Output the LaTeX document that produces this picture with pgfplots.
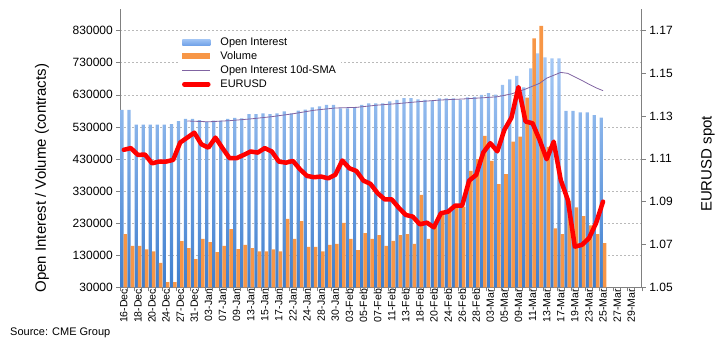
\documentclass[border=0pt]{standalone}
\usepackage{pgfplots}
\usepackage{pgfplotstable}
\pgfplotsset{compat=1.18}
\usepackage{fontspec}
\setmainfont{Liberation Sans}
\definecolor{oiTop}{RGB}{168,202,246}
\definecolor{oiBot}{RGB}{62,126,206}
\definecolor{lgTop}{RGB}{160,196,244}
\definecolor{lgBot}{RGB}{112,162,232}
\definecolor{volOr}{RGB}{247,150,70}
\definecolor{smaPu}{RGB}{128,100,162}
\definecolor{axGray}{RGB}{128,128,128}
\definecolor{gridGray}{RGB}{185,185,185}

\pgfplotstableread{
i oi vol eur
0 583000 196000 1.1142
1 583000 159000 1.1150
2 537000 159000 1.1118
3 537000 148500 1.1120
4 537000 142000 1.1079
5 537000 106000 1.1087
6 537000 46500 1.1087
7 539000 46500 1.1095
8 548000 174000 1.1176
9 555000 152500 1.1199
10 555000 118000 1.1222
11 551000 180600 1.1168
12 546000 171000 1.1152
13 550000 140000 1.1199
14 550000 159000 1.1150
15 555000 211000 1.1103
16 558000 149000 1.1103
17 557000 162000 1.1118
18 570000 152500 1.1134
19 570000 142000 1.1129
20 572600 142000 1.1150
21 570000 148500 1.1134
22 572600 142000 1.1087
23 578800 243000 1.1082
24 572600 180600 1.1090
25 580800 236700 1.1051
26 583800 155700 1.1020
27 591000 155700 1.1014
28 594400 142000 1.1017
29 598400 162000 1.1009
30 598400 165000 1.1025
31 588000 230500 1.1092
32 588000 180600 1.1056
33 591000 146000 1.1043
34 598400 199000 1.0998
35 603700 180600 1.0983
36 603700 193000 1.0940
37 603700 158800 1.0911
38 610000 174400 1.0911
39 614000 193000 1.0872
40 620000 196000 1.0838
41 620000 165000 1.0830
42 616000 318000 1.0794
43 614000 180600 1.0802
44 612000 222000 1.0780
45 619000 259000 1.0846
46 619000 266000 1.0853
47 619000 281000 1.0881
48 614000 281000 1.0881
49 622000 393000 1.0998
50 624000 430000 1.1025
51 630000 502000 1.1129
52 635000 424000 1.1173
53 630600 352000 1.1135
54 661000 383000 1.1235
55 678600 484000 1.1292
56 689000 499600 1.1435
57 653600 621000 1.1274
58 712900 806000 1.1266
59 759700 845000 1.1188
60 747000 468000 1.1098
61 744000 214000 1.1180
62 744000 196000 1.1001
63 579700 300000 1.0908
64 579700 279000 1.0690
65 575700 252000 1.0698
66 575700 223000 1.0729
67 567000 196000 1.0799
68 558800 168000 1.0900
}\datatab

\pgfplotstableread{
i sma
9 548500
12 546000
15 549500
18 555000
21 562000
24 571000
27 582000
30 589000
33 591000
36 598000
39 603000
42 609000
45 614000
48 617000
51 621000
53 624000
55 633000
57 648000
59 666000
60 682000
62 700000
63 697000
65 675000
66 663000
67 652000
68 643000
}\smatab

\begin{document}
\begin{tikzpicture}
\useasboundingbox (0,0) rectangle (727bp,359bp);
\begin{axis}[
  at={(120.3bp,71.7bp)}, anchor=south west,
  scale only axis, width=521.5bp, height=278.4bp,
  xmin=-0.5, xmax=73.5, ymin=30000, ymax=898000,
  axis x line*=bottom, axis y line*=left,
  axis line style={axGray, line width=0.8bp},
  every tick/.style={axGray, line width=0.6bp},
  tick align=outside, major tick length=4bp,
  ytick={30000,130000,230000,330000,430000,530000,630000,730000,830000},
  scaled y ticks=false,
  /pgf/number format/fixed, /pgf/number format/1000 sep={},
  /pgf/number format/assume math mode=true,
  yticklabel style={font=\fontsize{12bp}{14bp}\selectfont},
  ymajorgrids, grid style={gridGray, dash pattern=on 2bp off 2bp, line width=0.6bp},
  xtick={-0.5,0.5,...,73.5}, xticklabels={},
  extra x ticks={0,2,...,72},
  extra x tick labels={16-Dec,18-Dec,20-Dec,24-Dec,27-Dec,31-Dec,03-Jan,07-Jan,09-Jan,13-Jan,15-Jan,17-Jan,22-Jan,24-Jan,28-Jan,30-Jan,03-Feb,05-Feb,07-Feb,11-Feb,13-Feb,18-Feb,20-Feb,24-Feb,26-Feb,28-Feb,03-Mar,05-Mar,09-Mar,11-Mar,13-Mar,17-Mar,19-Mar,23-Mar,25-Mar,27-Mar,29-Mar},
  extra x tick style={grid=none, major tick length=0pt},
  xticklabel style={rotate=90, anchor=east, inner sep=1.5bp, font=\fontsize{10.5bp}{12bp}\selectfont},
  ylabel={Open Interest / Volume (contracts)},
  ylabel style={at={(axis description cs:-0.150,0.392)}, anchor=center, font=\fontsize{15bp}{18bp}\selectfont},
]
\addplot[ybar, bar width=0.46, bar shift=-0.25, draw=none, top color=oiTop, bottom color=oiBot] table[x=i, y=oi] {\datatab};
\addplot[ybar, bar width=0.5, bar shift=0.23, draw=none, fill=volOr] table[x=i, y=vol] {\datatab};
\addplot[smaPu, line width=0.8bp, no marks] table[x=i, y=sma] {\smatab};
\end{axis}
\begin{axis}[
  at={(120.3bp,71.7bp)}, anchor=south west,
  scale only axis, width=521.5bp, height=278.4bp,
  xmin=-0.5, xmax=73.5, ymin=1.05, ymax=1.18,
  axis x line=none, axis y line*=right,
  axis line style={axGray, line width=0.8bp},
  every tick/.style={axGray, line width=0.6bp},
  tick align=outside, major tick length=4bp,
  ytick={1.05,1.07,1.09,1.11,1.13,1.15,1.17},
  yticklabel style={font=\fontsize{12bp}{14bp}\selectfont,
    /pgf/number format/fixed, /pgf/number format/fixed zerofill,
    /pgf/number format/precision=2, /pgf/number format/assume math mode=true},
  ylabel={EURUSD spot},
  ylabel style={at={(axis description cs:1.127,0.443)}, anchor=center, font=\fontsize{15bp}{18bp}\selectfont},
  legend style={at={(axis description cs:0.112,0.913)}, anchor=north west, draw=none, fill=white,
    font=\fontsize{11bp}{13bp}\selectfont, row sep=0bp, inner xsep=3bp, inner ysep=2bp,
    nodes={text height=8bp, text depth=2.5bp, inner sep=1.75bp},
    /tikz/every odd column/.append style={column sep=8bp}},
  legend cell align=left,
]
\addlegendimage{draw=none, legend image code/.code={\shade[draw=none, top color=lgTop, bottom color=lgBot] (0bp,-3bp) rectangle (28bp,3bp);}}
\addlegendentry{Open Interest}
\addlegendimage{draw=none, legend image code/.code={\fill[volOr, draw=none] (0bp,-3bp) rectangle (28bp,3bp);}}
\addlegendentry{Volume}
\addlegendimage{legend image code/.code={\draw[smaPu, line width=0.8bp] (0bp,0bp) -- (28bp,0bp);}}
\addlegendentry{Open Interest 10d-SMA}
\addplot[red, line width=4.5bp, line join=round, line cap=round, no marks,
  legend image code/.code={\draw[red, line width=4.5bp, line cap=round] (2bp,0bp) -- (26bp,0bp);}]
  table[x=i, y=eur] {\datatab};
\addlegendentry{EURUSD}
\end{axis}
\node[anchor=west, font=\fontsize{11bp}{13bp}\selectfont, inner sep=0pt] at (10bp,26bp) {Source: CME Group};
\end{tikzpicture}
\end{document}
